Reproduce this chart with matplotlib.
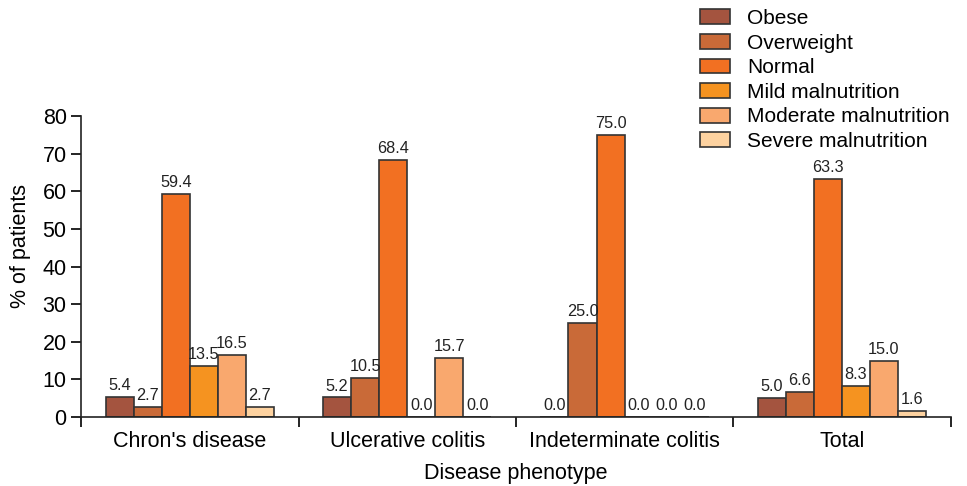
import numpy as np
import matplotlib.pyplot as plt

plt.rcParams['font.family'] = ['Liberation Sans', 'DejaVu Sans']

categories = ["Chron's disease", "Ulcerative colitis", "Indeterminate colitis", "Total"]
series_names = ["Obese", "Overweight", "Normal", "Mild malnutrition",
                "Moderate malnutrition", "Severe malnutrition"]
obese = [5.4, 5.2, 0.0, 5.0]
overweight = [2.7, 10.5, 25.0, 6.6]
normal = [59.4, 68.4, 75.0, 63.3]
mild = [13.5, 0.0, 0.0, 8.3]
moderate = [16.5, 15.7, 0.0, 15.0]
severe = [2.7, 0.0, 0.0, 1.6]
series = [obese, overweight, normal, mild, moderate, severe]
colors = ['#A4543F', '#C96A38', '#F27022', '#F59320', '#F9A86E', '#FDD2A0']

fig = plt.figure(figsize=(9.67, 4.86), dpi=100)
ax = fig.add_axes([0.084, 0.142, 0.899, 0.619])

x = np.arange(len(categories))
w = 0.129
for i, (name, vals, col) in enumerate(zip(series_names, series, colors)):
    pos = x + (i - 2.5) * w
    ax.bar(pos, vals, w, color=col, edgecolor='#333333', linewidth=1.2, label=name)
    for px, v in zip(pos, vals):
        ax.text(px, v + 1.0, f"{v:.1f}", ha='center', va='bottom', fontsize=11.7, color='#222222')

ax.set_xlim(-0.5, 3.5)
ax.set_ylim(0, 80)
ax.set_yticks(range(0, 81, 10))
ax.set_xticks(x)
ax.set_xticklabels(categories, fontsize=15.5)
ax.set_xticks(np.arange(-0.5, 3.6, 1.0), minor=True)
ax.tick_params(axis='x', which='major', length=0, pad=10)
ax.tick_params(axis='x', which='minor', length=7, width=1.2, direction='out')
ax.tick_params(axis='y', labelsize=15.5, length=7, width=1.2)
for s in ['top', 'right']:
    ax.spines[s].set_visible(False)
for s in ['left', 'bottom']:
    ax.spines[s].set_linewidth(1.2)
    ax.spines[s].set_color('#222222')

ax.set_xlabel("Disease phenotype", fontsize=15.5, labelpad=8)
ax.set_ylabel("% of patients", fontsize=15.5)
ax.yaxis.set_label_coords(-0.058, 0.57)

fig.legend(loc='upper left', bbox_to_anchor=(700 / 967, 1 - 9 / 486), frameon=False,
           fontsize=15, handlelength=1.45, handleheight=0.72, labelspacing=0.27,
           handletextpad=0.8, borderaxespad=0, borderpad=0)

fig.savefig('out.png', dpi=100)
